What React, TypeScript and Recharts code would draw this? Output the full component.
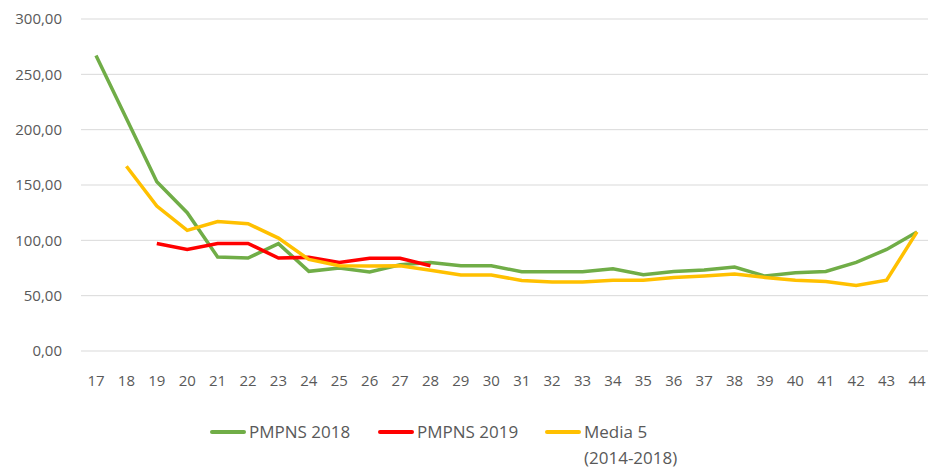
import { LineChart, Line, XAxis, YAxis, CartesianGrid, Legend } from 'recharts';

// Weeks on the category axis
const weeks = [17, 18, 19, 20, 21, 22, 23, 24, 25, 26, 27, 28, 29, 30, 31, 32, 33, 34, 35, 36, 37, 38, 39, 40, 41, 42, 43, 44];

const pmpns2018 = [267, 210, 153, 125, 85, 84, 97, 72, 75, 71.5, 78, 80, 77, 77, 71.6, 71.6, 71.6, 74.3, 68.9, 71.9, 73.1, 75.8, 67.7, 70.7, 71.9, 80, 91.8, 107.6];

const pmpns2019 = [null, null, 97.2, 91.8, 97.2, 97.2, 84, 84.6, 80, 83.7, 83.7, 77, null, null, null, null, null, null, null, null, null, null, null, null, null, null, null, null];

const media5 = [null, 167, 131, 109, 117, 115, 102, 82.7, 77, 76.7, 77, 73, 68.6, 68.6, 63.8, 62.3, 62.3, 64, 64, 66.5, 67.7, 69.5, 66.5, 64, 62.9, 59.3, 64, 107.6];

const yTicks = [0, 50, 100, 150, 200, 250, 300];

const data = weeks.map((w, i) => ({
  week: w,
  pmpns2018: pmpns2018[i],
  pmpns2019: pmpns2019[i],
  media5: media5[i],
}));

const FONT = '"Open Sans", sans-serif';
const TEXT = '#595959';

const legendItems = [
  { label: ['PMPNS 2018'], color: '#70AD47', x: 210 },
  { label: ['PMPNS 2019'], color: '#FF0000', x: 378 },
  { label: ['Media 5', '(2014-2018)'], color: '#FFC000', x: 545 },
];

const renderLegend = () => (
  <div style={{ position: 'relative', height: 0, width: 928 }}>
    {legendItems.map((item) => (
      <div key={item.label[0]} style={{ position: 'absolute', left: item.x, top: 0 }}>
        <div
          style={{
            position: 'absolute',
            left: 0,
            top: 20,
            width: 36,
            height: 4,
            borderRadius: 2,
            background: item.color,
          }}
        />
        <div
          style={{
            position: 'absolute',
            left: 39,
            top: 9,
            fontFamily: FONT,
            fontSize: 17,
            lineHeight: '26px',
            color: TEXT,
            whiteSpace: 'nowrap',
          }}
        >
          {item.label.map((l) => (
            <div key={l}>{l}</div>
          ))}
        </div>
      </div>
    ))}
  </div>
);

export default function App() {
  return (
    <div
      style={{
        position: 'absolute',
        top: 0,
        left: 0,
        width: 928,
        height: 468,
        overflow: 'hidden',
        background: '#fff',
      }}
    >
      <LineChart
        width={932}
        height={468}
        data={data}
        margin={{ top: 19, right: 0, left: 0, bottom: 87 }}
      >
        <CartesianGrid horizontal vertical={false} stroke="#D9D9D9" strokeWidth={1} />
        <XAxis
          dataKey="week"
          axisLine={false}
          tickLine={false}
          tickSize={0}
          tickMargin={24}
          height={30}
          interval={0}
          padding={{ left: 15, right: 15 }}
          tick={{ fill: TEXT, fontSize: 15, fontFamily: FONT }}
        />
        <YAxis
          domain={[0, 300]}
          ticks={yTicks}
          width={81}
          axisLine={false}
          tickLine={false}
          tickSize={0}
          tickMargin={19}
          tickFormatter={(v: number) => v.toFixed(2).replace('.', ',')}
          tick={{ fill: TEXT, fontSize: 15, fontFamily: FONT }}
        />
        <Legend
          content={renderLegend}
          wrapperStyle={{ position: 'absolute', top: 410, left: 0, width: 928, height: 0 }}
        />
        <Line
          type="linear"
          dataKey="pmpns2018"
          name="PMPNS 2018"
          stroke="#70AD47"
          strokeWidth={3.5}
          dot={false}
          isAnimationActive={false}
        />
        <Line
          type="linear"
          dataKey="pmpns2019"
          name="PMPNS 2019"
          stroke="#FF0000"
          strokeWidth={3.5}
          dot={false}
          isAnimationActive={false}
        />
        <Line
          type="linear"
          dataKey="media5"
          name="Media 5 (2014-2018)"
          stroke="#FFC000"
          strokeWidth={3.5}
          dot={false}
          isAnimationActive={false}
        />
      </LineChart>
    </div>
  );
}
